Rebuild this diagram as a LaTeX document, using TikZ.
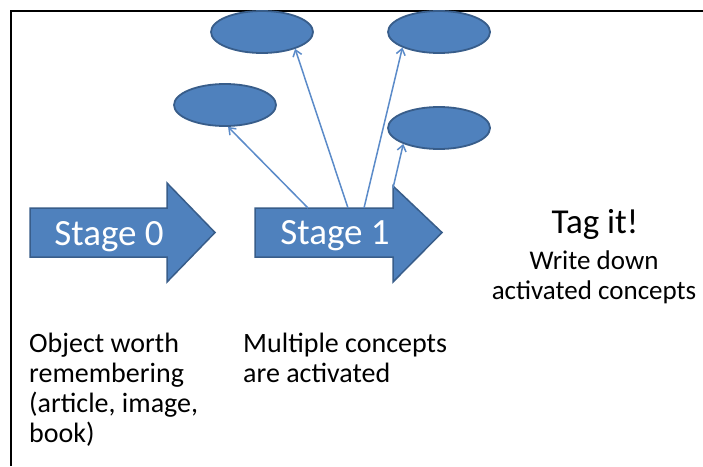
\documentclass[tikz,border=0pt]{standalone}
\usepackage{fontspec}
\setmainfont{Carlito}
\usetikzlibrary{shapes.geometric,arrows.meta}
\definecolor{boxblue}{HTML}{4F81BD}
\definecolor{edgeblue}{HTML}{385D8A}
\definecolor{linkblue}{HTML}{5B8BC9}
\tikzset{
  concept/.style={ellipse, draw=edgeblue, line width=1.8pt, fill=boxblue,
    minimum width=102pt, minimum height=42pt, inner sep=0pt},
  blockarrow/.style={draw=edgeblue, line width=1.5pt, fill=boxblue, line join=miter},
  stagetext/.style={text=white, font=\fontsize{37}{40}\selectfont, anchor=base, inner sep=0pt},
  link/.style={draw=linkblue, line width=1.5pt, -{Straight Barb[length=6pt,width=9pt,line width=1.5pt]}},
  caption/.style={font=\fontsize{28}{30}\selectfont, align=left, anchor=base west, inner sep=0pt},
  tagtext/.style={align=center, anchor=base, inner sep=0pt},
}
\begin{document}
\begin{tikzpicture}[x=1pt,y=-1pt]
\useasboundingbox (0,0) rectangle (703,466);
\fill[white] (0,0) rectangle (703,466);
% frame
\draw[line width=2.5pt] (11,466) -- (11,11) -- (703,11);

% block arrows
\path[blockarrow] (30,208) -- (167,208) -- (167,183) -- (215,232.5) -- (167,282) -- (167,257) -- (30,257) -- cycle;
\path[blockarrow] (255,208) -- (393,208) -- (393,186) -- (442,232.5) -- (393,282) -- (393,257) -- (255,257) -- cycle;
\node[stagetext] (s0) at (109,245) {Stage 0};
\node[stagetext] (s1) at (335,244) {Stage 1};

% concept ellipses
\node[concept] (e1) at (262,32) {};
\node[concept] (e2) at (439,32) {};
\node[concept] (e3) at (225,105) {};
\node[concept] (e4) at (439,128) {};

% connector start points on Stage 1 arrow
\coordinate (a3) at (308,208);
\coordinate (a1) at (348,208);
\coordinate (a2) at (364,208);
\coordinate (a4) at (393,188);

\draw[link] (a3) -- (e3.-82);
\draw[link] (a1) -- (e1.-27);
\draw[link] (a2) -- (e2.-157);
\draw[link] (a4) -- (e4.-156);

% texts (base anchor = baseline of the last line)
\node[tagtext, font=\fontsize{35}{38}\selectfont] (tag) at (595,233) {Tag it!};
\node[tagtext, font=\fontsize{27}{30}\selectfont] (tag2) at (594,299) {Write down\\activated concepts};
\node[caption] (c0) at (29,442) {Object worth\\remembering\\(article, image,\\book)};
\node[caption] (c1) at (243,382) {Multiple concepts\\are activated};
\end{tikzpicture}
\end{document}
